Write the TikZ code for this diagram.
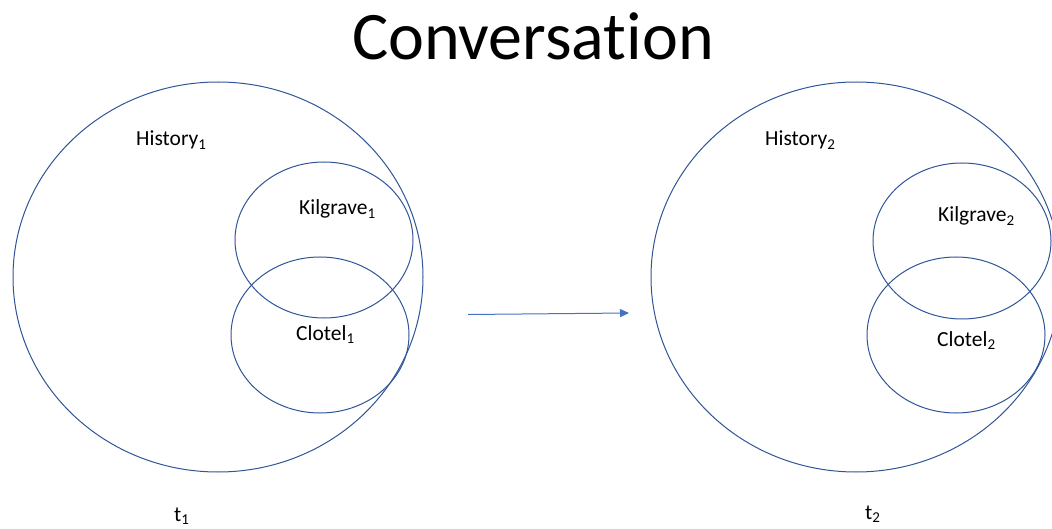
\documentclass[tikz,border=0pt]{standalone}
\usepackage{fontspec}
\setmainfont{Carlito}[Ligatures=NoCommon]
\usetikzlibrary{shapes.geometric,arrows.meta}
\definecolor{ringblue}{HTML}{2F5597}
\definecolor{arrowblue}{HTML}{4472C4}
\tikzset{
  ring/.style={draw=ringblue, line width=1pt, ellipse, inner sep=0pt},
  bigring/.style={ring, minimum width=410pt, minimum height=390pt},
  smallring/.style={ring, minimum width=178pt, minimum height=156pt},
  lbl/.style={anchor=base west, inner sep=0pt, font=\fontsize{21.5}{26}\selectfont},
  flow/.style={draw=arrowblue, line width=1pt, -{Triangle[length=9pt,width=8pt]}}
}
\begin{document}
\begin{tikzpicture}[x=1pt,y=-1pt]
  \useasboundingbox (0,0) rectangle (1052,529);
  \clip (0,0) rectangle (1052,529);

  \node[inner sep=0pt, font=\fontsize{68}{82}\selectfont, anchor=base] (title) at (533,60) {Conversation};

  % state at t1
  \node[bigring] (hist1) at (218,277) {};
  \node[smallring] (kil1) at (324,240) {};
  \node[smallring] (clo1) at (320,335) {};
  \node[lbl] (hist1l) at (136,146) {History\textsubscript{1}};
  \node[lbl] (kil1l) at (299,215) {Kilgrave\textsubscript{1}};
  \node[lbl] (clo1l) at (296,340) {Clotel\textsubscript{1}};
  \node[lbl] (t1) at (174,521) {t\textsubscript{1}};

  % state at t2
  \node[bigring] (hist2) at (856,277) {};
  \node[smallring] (kil2) at (962,241) {};
  \node[smallring] (clo2) at (956,335) {};
  \node[lbl] (hist2l) at (765,146) {History\textsubscript{2}};
  \node[lbl] (kil2l) at (938,222) {Kilgrave\textsubscript{2}};
  \node[lbl] (clo2l) at (937,346) {Clotel\textsubscript{2}};
  \node[lbl] (t2) at (865,519) {t\textsubscript{2}};

  % transition
  \coordinate (from) at (468,314.5);
  \coordinate (to) at (629,313);
  \draw[flow] (from) -- (to);
\end{tikzpicture}
\end{document}
